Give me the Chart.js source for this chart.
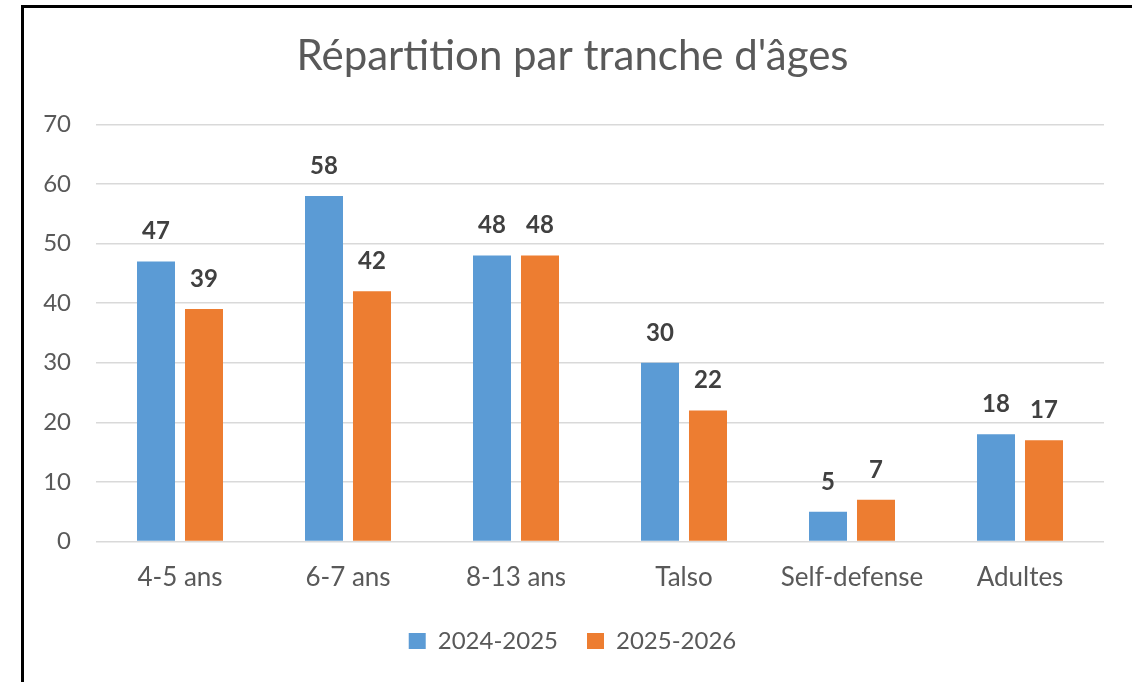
<!DOCTYPE html>
<html>
<head>
<meta charset="utf-8">
<script src="https://cdn.jsdelivr.net/npm/chart.js@4"></script>
<style>
  html, body { margin: 0; padding: 0; background: #fff; }
  #wrap { position: absolute; left: 0; top: 0; width: 1132px; height: 682px; }
  #frame { position: absolute; left: 21px; top: 5px; width: 1120px; height: 690px;
           border-left: 3px solid #000; border-top: 3px solid #000; pointer-events: none; }
</style>
</head>
<body>
<div id="wrap"><canvas id="c" width="1132" height="682"></canvas></div>
<div id="frame"></div>
<script>
const categories = ["4-5 ans", "6-7 ans", "8-13 ans", "Talso", "Self-defense", "Adultes"];
const series2024 = [47, 58, 48, 30, 5, 18];
const series2025 = [39, 42, 48, 22, 7, 17];
const seriesNames = ["2024-2025", "2025-2026"];
const titleText = "Répartition par tranche d'âges";

const valueLabels = {
  id: 'valueLabels',
  afterDatasetsDraw(chart) {
    const ctx = chart.ctx;
    ctx.save();
    ctx.font = 'bold 24px Lato';
    ctx.fillStyle = '#404040';
    ctx.textAlign = 'center';
    ctx.textBaseline = 'alphabetic';
    chart.data.datasets.forEach((ds, i) => {
      chart.getDatasetMeta(i).data.forEach((bar, j) => {
        ctx.fillText(String(ds.data[j]), bar.x, bar.y - 22);
      });
    });
    ctx.restore();
  }
};

new Chart(document.getElementById('c'), {
  type: 'bar',
  data: {
    labels: categories,
    datasets: [
      { label: seriesNames[0], data: series2024, backgroundColor: '#5B9BD5',
        categoryPercentage: 0.5714, barPercentage: 0.7917 },
      { label: seriesNames[1], data: series2025, backgroundColor: '#ED7D31',
        categoryPercentage: 0.5714, barPercentage: 0.7917 }
    ]
  },
  options: {
    responsive: false,
    animation: false,
    layout: { padding: { left: 41, right: 28, top: 0, bottom: 19 } },
    plugins: {
      title: {
        display: true, text: titleText, color: '#595959',
        font: { family: 'Lato', size: 42, weight: 'normal' },
        padding: { top: 31, bottom: 43 }
      },
      legend: {
        position: 'bottom',
        labels: {
          color: '#595959', font: { family: 'Lato', size: 24 },
          boxWidth: 17, boxHeight: 16, padding: 29
        }
      },
      tooltip: { enabled: false }
    },
    scales: {
      x: {
        grid: { display: false, drawTicks: false },
        border: { display: false },
        ticks: { color: '#595959', font: { family: 'Lato', size: 26 }, padding: 21 },
        afterFit(scale) { scale.height = 58.5; }
      },
      y: {
        min: 0, max: 70,
        grid: { color: '#d9d9d9', lineWidth: 1.5, drawTicks: false },
        border: { display: false },
        ticks: { stepSize: 10, color: '#595959', font: { family: 'Lato', size: 24 }, padding: 25 },
        afterFit(scale) { scale.width = 55; }
      }
    }
  },
  plugins: [valueLabels]
});
</script>
</body>
</html>
